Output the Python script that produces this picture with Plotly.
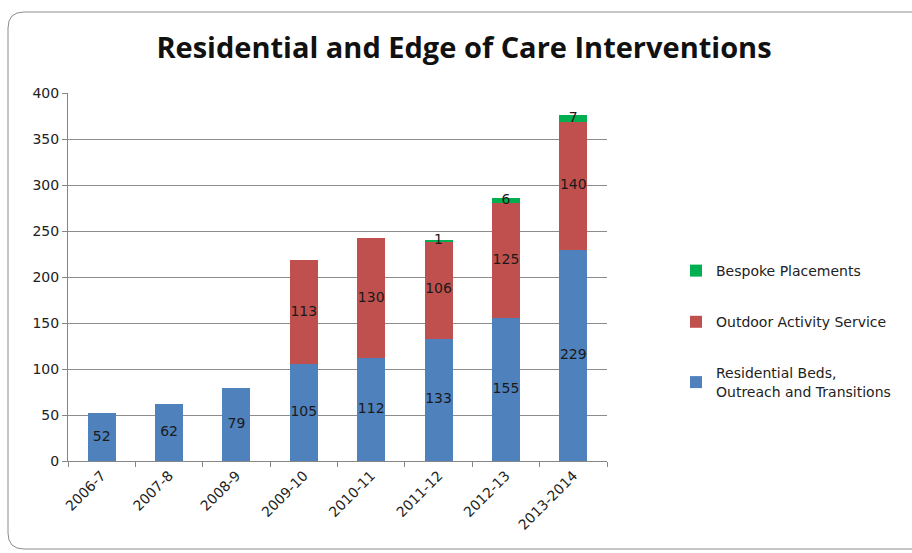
import plotly.graph_objects as go

years = ["2006-7", "2007-8", "2008-9", "2009-10", "2010-11", "2011-12", "2012-13", "2013-2014"]
residential = [52, 62, 79, 105, 112, 133, 155, 229]
outdoor = [None, None, None, 113, 130, 106, 125, 140]
bespoke = [None, None, None, None, None, 1, 6, 7]

series_names = ["Residential Beds,<br>Outreach and Transitions", "Outdoor Activity Service", "Bespoke Placements"]
colors = ["#4F81BD", "#C0504D", "#00B050"]
legend_ranks = [3, 2, 1]

FONT = "'DejaVu Sans', sans-serif"
TITLE_FONT = "'Open Sans', sans-serif"

fig = go.Figure()
base = [0] * len(years)
label_traces = []
for i, (name, vals, col) in enumerate(zip(series_names, [residential, outdoor, bespoke], colors)):
    fig.add_trace(go.Bar(
        x=years, y=[v if v is not None else 0 for v in vals], name=name,
        marker=dict(color=col, line=dict(width=0)),
        legendgroup=f"g{i}", legendrank=legend_ranks[i],
    ))
    mids, texts = [], []
    for k, v in enumerate(vals):
        if v is None:
            mids.append(None)
            texts.append("")
        else:
            mids.append(base[k] + v / 2)
            texts.append(str(v))
            base[k] += v
    label_traces.append(go.Scatter(
        x=years, y=mids, text=texts, mode="text", showlegend=False,
        textfont=dict(family=FONT, size=14, color="#1a1a1a"), hoverinfo="skip",
    ))
for t in label_traces:
    fig.add_trace(t)

# plot area in pixels
L, R, T, B = 68, 607, 93, 461
W, H = R - L, B - T

def px(x):
    return (x - L) / W

def py(y):
    return (B - y) / H

# rounded chart border
x0, x1, y0, y1, r = 8, 930, 12, 549, 16
path = (f"M {px(x0 + r)},{py(y0)} L {px(x1)},{py(y0)} L {px(x1)},{py(y1)} "
        f"L {px(x0 + r)},{py(y1)} Q {px(x0)},{py(y1)} {px(x0)},{py(y1 - r)} "
        f"L {px(x0)},{py(y0 + r)} Q {px(x0)},{py(y0)} {px(x0 + r)},{py(y0)} Z")

fig.update_layout(
    width=912, height=553,
    margin=dict(l=L, r=912 - R, t=T, b=553 - B),
    paper_bgcolor="white", plot_bgcolor="white",
    barmode="stack", bargap=0.585,
    font=dict(family=FONT, size=14, color="#222"),
    title=dict(text="<b>Residential and Edge of Care Interventions</b>",
               x=464 / 912, xref="container", xanchor="center",
               y=1 - 48 / 553, yref="container", yanchor="middle",
               font=dict(family=TITLE_FONT, size=29, color="#111")),
    xaxis=dict(type="category", tickson="boundaries", ticks="outside", ticklen=5,
               tickcolor="#868686", showline=True, linecolor="#868686", linewidth=1,
               tickangle=-45, tickfont=dict(size=14), showgrid=False),
    yaxis=dict(range=[0, 400], dtick=50, ticks="outside", ticklen=5,
               tickcolor="#868686", showline=True, linecolor="#868686", linewidth=1,
               gridcolor="#8c8c8c", gridwidth=1, tickfont=dict(size=14), zeroline=False),
    legend=dict(x=px(676), xanchor="left", y=py(255), yanchor="top",
                traceorder="grouped", tracegroupgap=30,
                font=dict(family=FONT, size=14, color="#222"),
                itemwidth=30, bgcolor="rgba(0,0,0,0)"),
    shapes=[dict(type="path", xref="paper", yref="paper", path=path,
                 line=dict(color="#8c8c8c", width=1), layer="below")],
    showlegend=True,
)

fig.write_html("out.html")
